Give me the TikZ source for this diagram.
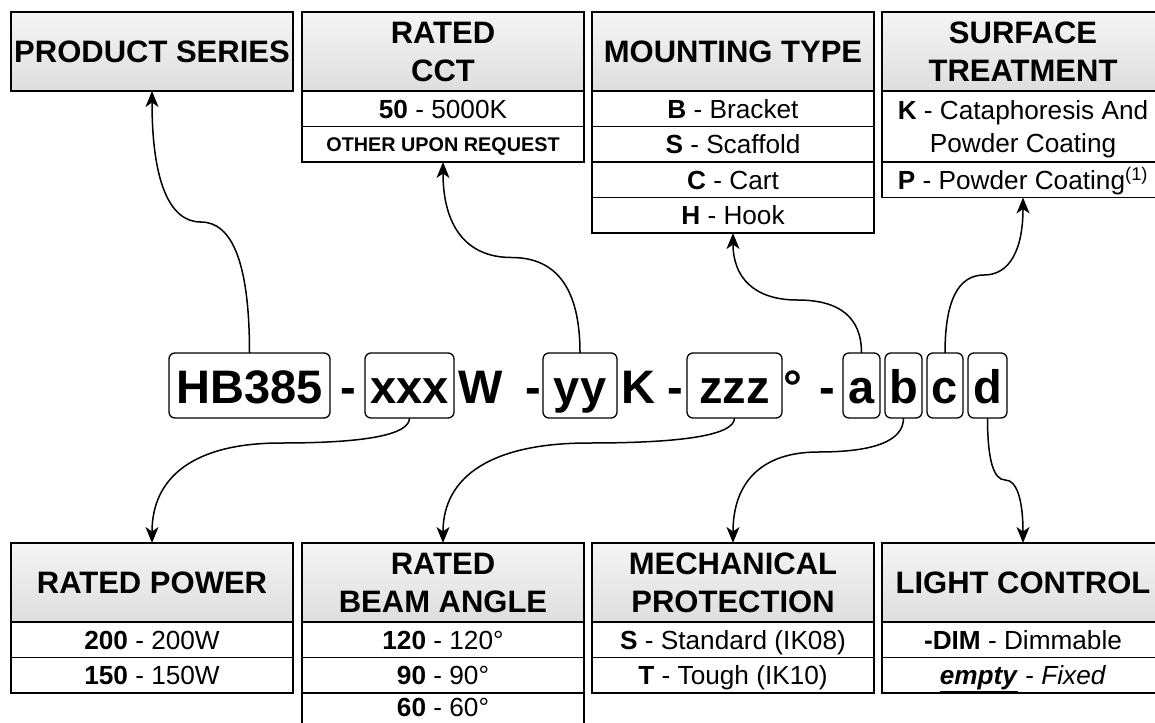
\documentclass[tikz,border=0pt]{standalone}
\usepackage{fontspec}
\setmainfont{Liberation Sans}
\usetikzlibrary{positioning,calc,arrows.meta}

\begin{document}
\begin{tikzpicture}[
  x=1pt, y=1pt,
  node distance=0pt,
  >={Stealth[length=16pt,width=13pt,inset=4.5pt]},
  hdrbox/.style={draw, line width=1.4pt, top color=white!96!black, bottom color=white!87!black,
    minimum width=282pt, minimum height=79pt, inner sep=0pt, outer sep=0pt, align=center,
    font=\fontsize{31}{38}\selectfont\bfseries},
  optbox/.style={draw, line width=1.4pt, fill=white, minimum width=282pt, minimum height=35.5pt,
    inner sep=0pt, outer sep=0pt, align=center, text height=18.8pt, text depth=0pt,
    font=\fontsize{26.2}{33}\selectfont},
  codebox/.style={draw, line width=1.3pt, rounded corners=6pt, inner sep=0pt, outer sep=0pt,
    text height=50pt, text depth=15pt, anchor=base, font=\fontsize{47}{56}\selectfont\bfseries},
  codetxt/.style={inner sep=0pt, anchor=base, font=\fontsize{47}{56}\selectfont\bfseries},
  link/.style={->, line width=1.5pt},
  drawio/.style={to path={let \p1=(\tikztostart), \p2=(\tikztotarget), \n1={(\x1+\x2)/2} in
    .. controls (\x1,{\y1+2/3*((#1)-(\y1))}) and ({\n1+2/3*((\x1)-(\n1))},#1) .. (\n1,#1)
    .. controls ({\n1+2/3*((\x2)-(\n1))},#1) and (\x2,{\y2+2/3*((#1)-(\y2))}) .. (\tikztotarget)}}
]
  \useasboundingbox (0,0) rectangle (1155,-722);

  % Top tables
  \node[hdrbox] (ps) at (152,-51.5) {PRODUCT SERIES};

  \node[hdrbox] (cct) at (443,-51.5) {RATED\\CCT};
  \node[optbox, below=of cct] (cct1) {\textbf{50} - 5000K};
  \node[optbox, below=of cct1, text height=14.2pt, font=\fontsize{19.8}{24}\selectfont\bfseries] (cct2) {OTHER UPON REQUEST};

  \node[hdrbox] (mt) at (733,-51.5) {MOUNTING TYPE};
  \node[optbox, below=of mt] (mt1) {\textbf{B} - Bracket};
  \node[optbox, below=of mt1] (mt2) {\textbf{S} - Scaffold};
  \node[optbox, below=of mt2] (mt3) {\textbf{C} - Cart};
  \node[optbox, below=of mt3] (mt4) {\textbf{H} - Hook};

  \node[hdrbox] (st) at (1023,-51.5) {SURFACE\\TREATMENT};
  \node[optbox, below=of st, minimum height=71pt, text height=51.8pt] (st1) {\textbf{K} - Cataphoresis And\\Powder Coating};
  \node[optbox, below=of st1] (st2) {\textbf{P} - Powder Coating\textsuperscript{(1)}};

  % Product code
  \node[codebox, minimum width=161pt] (hb) at (249.5,-403) {HB385};
  \node[codetxt] (d1) at (348,-403) {-};
  \node[codebox, minimum width=89pt] (xxx) at (409.5,-403) {xxx};
  \node[codetxt] (unitw) at (481,-403) {W};
  \node[codetxt] (d2) at (533,-403) {-};
  \node[codebox, minimum width=74pt] (yy) at (580,-403) {yy};
  \node[codetxt] (unitk) at (638,-403) {K};
  \node[codetxt] (d3) at (675,-403) {-};
  \node[codebox, minimum width=95pt] (zzz) at (734.5,-403) {zzz};
  \node[codetxt] (unitdeg) at (793,-403) {°};
  \node[codetxt] (d4) at (827,-403) {-};
  \node[codebox, minimum width=37pt] (ca) at (861.5,-403) {a};
  \node[codebox, minimum width=37pt, right=5pt of ca] (cb) {b};
  \node[codebox, minimum width=36pt, right=5pt of cb] (cc) {c};
  \node[codebox, minimum width=39pt, right=5pt of cc] (cd) {d};

  % Bottom tables
  \node[hdrbox] (rp) at (152,-582.5) {RATED POWER};
  \node[optbox, below=of rp] (rp1) {\textbf{200} - 200W};
  \node[optbox, below=of rp1] (rp2) {\textbf{150} - 150W};

  \node[hdrbox] (ba) at (443,-582.5) {RATED\\BEAM ANGLE};
  \node[optbox, below=of ba] (ba1) {\textbf{120} - 120°};
  \node[optbox, below=of ba1] (ba2) {\textbf{90} - 90°};
  \node[optbox, below=of ba2, text depth=7pt] (ba3) {\textbf{60} - 60°};

  \node[hdrbox] (mp) at (733,-582.5) {MECHANICAL\\PROTECTION};
  \node[optbox, below=of mp] (mp1) {\textbf{S} - Standard (IK08)};
  \node[optbox, below=of mp1] (mp2) {\textbf{T} - Tough (IK10)};

  \node[hdrbox] (lc) at (1023,-582.5) {LIGHT CONTROL};
  \node[optbox, below=of lc] (lc1) {\textbf{-DIM} - Dimmable};
  \node[optbox, below=of lc1] (lc2) {\underline{\textbf{\textit{empty}}} - \textit{Fixed}};

  % Links
  \draw[link] (hb.north) to[drawio=-222] (ps.south);
  \draw[link] (yy.north) to[drawio=-257.5] (cct2.south);
  \draw[link] (ca.north) to[drawio=-300] (mt4.south);
  \draw[link] (cc.north) to[drawio=-275] (st2.south);
  \draw[link] (xxx.south) to[drawio=-443] (rp.north);
  \draw[link] (zzz.south) to[drawio=-443] (ba.north);
  \draw[link] (cb.south) to[drawio=-452] (mp.north);
  \draw[link] (cd.south) to[drawio=-480] (lc.north);

\end{tikzpicture}
\end{document}
